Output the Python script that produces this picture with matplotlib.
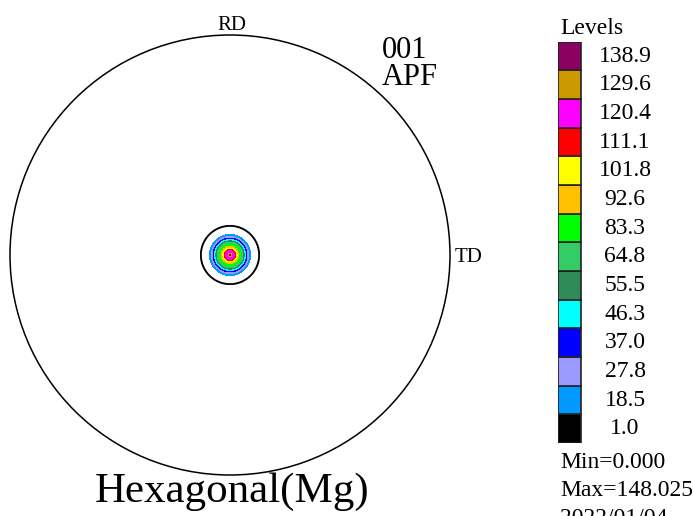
import numpy as np
import matplotlib
matplotlib.use("Agg")
import matplotlib.pyplot as plt
from matplotlib.patches import Circle

plt.rcParams['font.family'] = ['Liberation Serif', 'DejaVu Serif']

# ---- data ----
levels = [1.0, 18.5, 27.8, 37.0, 46.3, 55.5, 64.8, 83.3, 92.6, 101.8, 111.1, 120.4, 129.6, 138.9]
level_labels = ["1.0", "18.5", "27.8", "37.0", "46.3", "55.5", "64.8", "83.3", "92.6",
                "101.8", "111.1", "120.4", "129.6", "138.9"]
level_colors = ["#000000", "#0099FF", "#9999FF", "#0000FF", "#00FFFF", "#2E8B57", "#33CC66",
                "#00FF00", "#FFC000", "#FFFF00", "#FF0000", "#FF00FF", "#CC9900", "#8B0060"]
min_value = 0.000
max_value = 148.025
date_text = "2022/01/04"
# radial intensity profile of the single pole (normalised pole-figure radius)
profile_radius = [0.0, 0.0045, 0.009, 0.020, 0.025, 0.032, 0.039, 0.049, 0.058,
                  0.064, 0.070, 0.077, 0.084, 0.093, 0.132, 0.25]
profile_value = [148.025, 138.9, 129.6, 120.4, 111.1, 101.8, 92.6, 83.3, 64.8,
                 55.5, 46.3, 37.0, 27.8, 18.5, 1.0, 0.0]

W, H = 693, 516
fig = plt.figure(figsize=(W / 100, H / 100), dpi=100)

# ---- pole figure ----
cx, cy, R = 230, 255, 220
ax = fig.add_axes([(cx - R) / W, (H - cy - R) / H, 2 * R / W, 2 * R / H])
ax.set_xlim(-1, 1)
ax.set_ylim(-1, 1)
ax.set_aspect('equal')
ax.axis('off')

g = np.linspace(-0.25, 0.25, 501)
X, Y = np.meshgrid(g, g)
Rr = np.hypot(X, Y)
Z = np.interp(Rr, profile_radius, profile_value)

fill_levels = levels[1:] + [max_value + 1]
ax.contourf(X, Y, Z, levels=fill_levels, colors=level_colors[1:])
ax.contour(X, Y, Z, levels=[levels[0]], colors='black', linewidths=1.3)

ax.add_patch(Circle((0, 0), 1.0, fill=False, edgecolor='black', lw=1.1, clip_on=False))

ax.text(0.01, 1.023, "RD", ha='center', va='baseline', fontsize=15, clip_on=False)
ax.text(1.023, -0.032, "TD", ha='left', va='baseline', fontsize=15, clip_on=False)
ax.text(0.69, 0.895, "001", ha='left', va='baseline', fontsize=22, clip_on=False)
ax.text(0.69, 0.773, "APF", ha='left', va='baseline', fontsize=22, clip_on=False)
ax.text(0.01, -1.121, "Hexagonal(Mg)", ha='center', va='baseline', fontsize=31, clip_on=False)

# ---- level legend ----
top, bot = 41.7, 443.0
x0, x1 = 558, 693
lax = fig.add_axes([x0 / W, (H - bot) / H, (x1 - x0) / W, (bot - top) / H])
lax.set_xlim(0, x1 - x0)
lax.set_ylim(0, len(levels))
lax.axis('off')
for i, (lab, col) in enumerate(zip(level_labels, level_colors)):
    lax.bar(0, 1, bottom=i, width=23, align='edge', color=col,
            edgecolor='#222222', linewidth=1.2)
    lax.text(67, i + 0.5, lab, ha='center', va='center', fontsize=17)

fig.text(560 / W, 1 - 28 / H, "Levels", ha='left', va='center', fontsize=17)
fig.text(560 / W, 1 - 462.5 / H, "Min=%.3f" % min_value, ha='left', va='center', fontsize=17)
fig.text(560 / W, 1 - 490.5 / H, "Max=%.3f" % max_value, ha='left', va='center', fontsize=17)
fig.text(560 / W, 1 - 519 / H, date_text, ha='left', va='center', fontsize=17)

fig.savefig("out.png", dpi=100)
